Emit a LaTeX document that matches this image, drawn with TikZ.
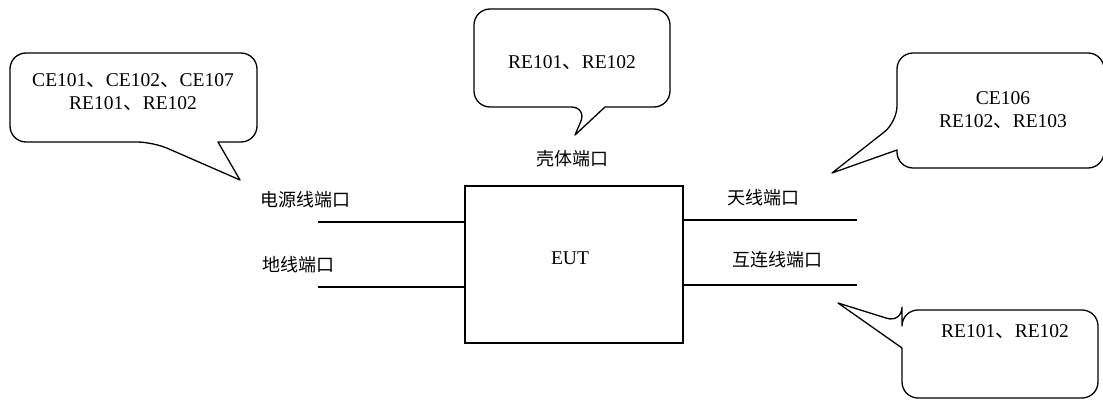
\documentclass[tikz,border=0pt]{standalone}
\usepackage{fontspec}
\setmainfont{Liberation Serif}
\newfontfamily\cjk{Noto Sans CJK SC}
\begin{document}
\begin{tikzpicture}[x=1pt,y=-1pt,
  every node/.style={font=\fontsize{19.5}{23}\selectfont, inner sep=0pt},
  cjklabel/.style={font=\cjk\fontsize{18}{21}\selectfont},
  ln/.style={line width=1.3pt},
  bubble/.style={line width=1.3pt, line join=round}]
\useasboundingbox (0,0) rectangle (1103,406);
\clip (0,0) rectangle (1103,406);

% EUT box
\node[draw, ln, minimum width=218pt, minimum height=157pt] (eut) at (574,264.5) {};
\node (euttext) at (570,258) {EUT};

% port lines
\coordinate (pw) at (318,222);
\coordinate (gd) at (318,287);
\coordinate (an) at (857,220);
\coordinate (ic) at (857,285);
\draw[ln] (pw) -- (pw -| eut.west);
\draw[ln] (gd) -- (gd -| eut.west);
\draw[ln] (an) -- (an -| eut.east);
\draw[ln] (ic) -- (ic -| eut.east);

% port labels
\node[cjklabel] (lpw) at (305,200) {电源线端口};
\node[cjklabel] (lgd) at (298,265) {地线端口};
\node[cjklabel] (lan) at (763,198) {天线端口};
\node[cjklabel] (lic) at (777,260) {互连线端口};
\node[cjklabel] (lsh) at (572,159) {壳体端口};

% left callout
\draw[bubble] (237,142) [rounded corners=16] -- (257,142) -- (257,53) -- (10,53) -- (10,142) -- (153,142) [sharp corners] -- (240,180) -- (218,142) -- cycle;
\node[align=center] (tl) at (133,92) {CE101{\cjk 、}CE102{\cjk 、}CE107\\RE101{\cjk 、}RE102};

% top callout
\draw[bubble] (637,107) [rounded corners=16] -- (670,107) -- (670,9) -- (474,9) -- (474,107) -- (587,107) [sharp corners] -- (575,135) -- (605,107) -- cycle;
\node (tt) at (572,63) {RE101{\cjk 、}RE102};

% right top callout
\draw[bubble] (897,151) [rounded corners=16] -- (897,168) -- (1104,168) -- (1104,53) -- (897,53) -- (897,122) [sharp corners] -- (832,173) -- (897,150) -- cycle;
\node[align=center] (tr) at (1003,110) {CE106\\RE102{\cjk 、}RE103};

% bottom right callout
\draw[bubble] (902,349) [rounded corners=16] -- (902,398) -- (1098,398) -- (1098,310) -- (902,310) -- (902,323) [sharp corners] -- (838,303) -- (902,348) -- cycle;
\node (br) at (1005,332) {RE101{\cjk 、}RE102};
\end{tikzpicture}
\end{document}
